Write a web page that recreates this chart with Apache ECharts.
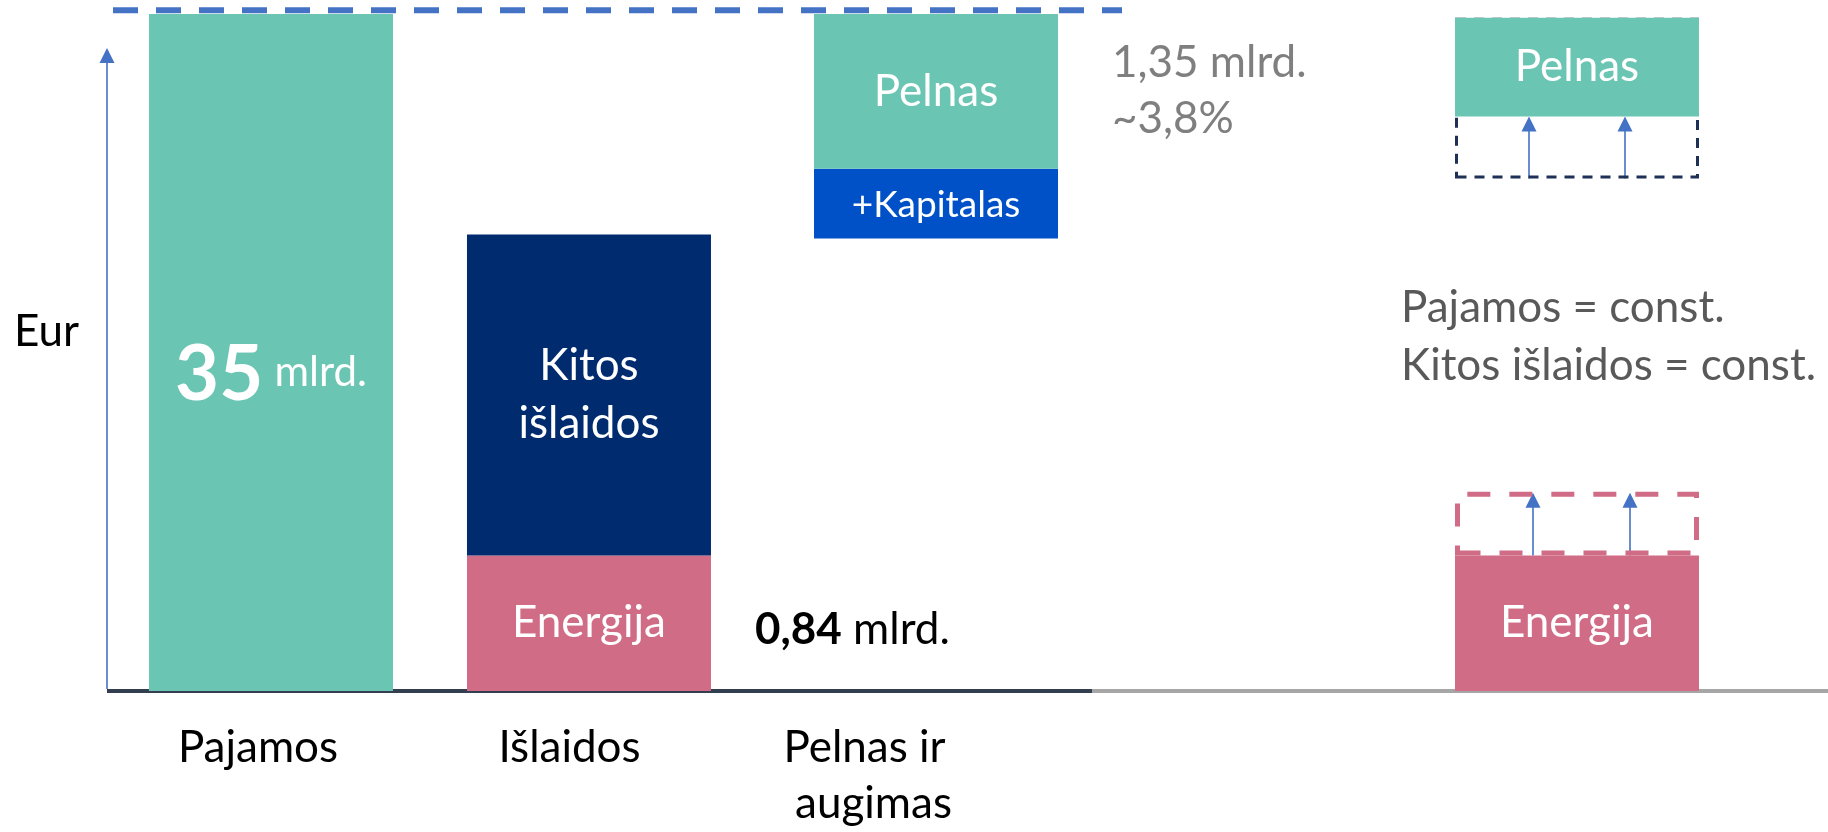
<!DOCTYPE html>
<html>
<head>
<meta charset="utf-8" />
<title>Pajamos, išlaidos ir pelnas</title>
<style>
  html, body { margin: 0; padding: 0; background: #fff; }
  #main { width: 1828px; height: 832px; }
</style>
</head>
<body>
<div id="main"></div>
<script src="https://cdn.jsdelivr.net/npm/echarts@6/dist/echarts.min.js"></script>
<script>
// duomenys, mlrd. Eur (stulpelių aukščiai schematiniai, kaip paveiksle)
var categories = ['Pajamos', 'Išlaidos', 'Pelnas ir\naugimas'];
var pajamos = [35, '-', '-'];
var energija = ['-', 7.0, '-'];
var kitosIslaidos = ['-', 16.6, '-'];
var pelnoBaze = ['-', '-', 23.4];
var kapitalas = ['-', '-', 3.6];
var pelnas = ['-', '-', 8.0];

// dešinė dalis: energija brangsta, pelnas mažėja
var energijaPo = [7.0];
var energijosPrieaugis = [3.3];
var pelnasPriesBaze = [26.5];
var pelnasPries = [8.3];
var pelnasPoBaze = [29.7];
var pelnasPo = [5.1];

var yMax = 35;
var riba = 35.2;   // punktyrinė linija virš pajamų

var TEAL = '#6BC5B3', NAVY = '#002B6E', PINK = '#D06C85', KAP = '#0050C8';
var BLUE = '#4472C4', AXIS_DARK = '#333F50', AXIS_GRAY = '#A6A6A6';
var FONT = 'Lato';
var FS = 44;

function whiteLabel(extra) {
    var l = { show: true, position: 'inside', color: '#fff', fontFamily: FONT, fontSize: FS };
    for (var k in extra) l[k] = extra[k];
    return l;
}
function bar(name, data, color, stack, grid, label) {
    return {
        name: name, type: 'bar', data: data, stack: stack,
        xAxisIndex: grid, yAxisIndex: grid,
        barWidth: 244, silent: true,
        itemStyle: { color: color },
        label: label || { show: false },
        emphasis: { disabled: true }
    };
}
function dashedBar(name, data, border, width, dash, stack) {
    var s = bar(name, data, 'rgba(0,0,0,0)', stack, 1);
    s.itemStyle = { color: 'rgba(0,0,0,0)', borderColor: border, borderWidth: width, borderType: dash };
    return s;
}
function axisRich(padRight) {
    return { fontFamily: FONT, fontSize: FS, lineHeight: 56, color: '#000', padding: [0, padRight, 0, 0] };
}

var option = {
    animation: false,
    backgroundColor: '#fff',
    grid: [
        { left: 126.5, top: 14, width: 954, bottom: 141 },
        { left: 1333, top: 14, width: 488, bottom: 141 }
    ],
    xAxis: [{
        type: 'category', gridIndex: 0, data: categories,
        axisLine: { show: false },
        axisTick: { show: false },
        axisLabel: {
            interval: 0, margin: 29, color: '#000',
            formatter: function (v, i) {
                if (i === 0) return '{a|' + v + '}';
                if (i === 1) return '{b|' + v + '}';
                var p = v.split('\n');
                return '{c|' + p[0] + '}\n{d|' + p[1] + '}';
            },
            rich: { a: axisRich(55), b: axisRich(68), c: axisRich(114), d: axisRich(96) }
        }
    }, {
        type: 'category', gridIndex: 1, data: ['Po'],
        axisLine: { show: false },
        axisTick: { show: false },
        axisLabel: { show: false }
    }],
    yAxis: [
        { type: 'value', gridIndex: 0, min: 0, max: yMax, show: false },
        { type: 'value', gridIndex: 1, min: 0, max: yMax, show: false }
    ],
    series: [
        bar('Pajamos', pajamos, TEAL, 'L', 0, whiteLabel({
            offset: [0, 21],
            formatter: '{n|35} {m|mlrd.}',
            rich: {
                n: { fontFamily: FONT, fontSize: 76, fontWeight: 'bold', color: '#fff', verticalAlign: 'bottom', lineHeight: 80 },
                m: { fontFamily: FONT, fontSize: 42, color: '#fff', verticalAlign: 'bottom', lineHeight: 80, padding: [0, 0, 20, 0] }
            }
        })),
        bar('Energija', energija, PINK, 'L', 0, whiteLabel({ formatter: 'Energija' })),
        bar('Kitos išlaidos', kitosIslaidos, NAVY, 'L', 0, whiteLabel({ formatter: 'Kitos\nišlaidos', lineHeight: 58 })),
        bar('Bazė', pelnoBaze, 'rgba(0,0,0,0)', 'P', 0),
        bar('Kapitalas', kapitalas, KAP, 'P', 0, whiteLabel({ formatter: '+Kapitalas', fontSize: 37, offset: [0, 2] })),
        bar('Pelnas', pelnas, TEAL, 'P', 0, whiteLabel({ formatter: 'Pelnas' })),

        bar('Energija po', energijaPo, PINK, 'R1', 1, whiteLabel({ formatter: 'Energija' })),
        dashedBar('Energijos prieaugis', energijosPrieaugis, PINK, 5, [23, 19], 'R1'),
        bar('Bazė 2', pelnasPriesBaze, 'rgba(0,0,0,0)', 'R2', 1),
        dashedBar('Pelnas prieš', pelnasPries, '#1F3056', 3, [10, 8], 'R2'),
        bar('Bazė 3', pelnasPoBaze, 'rgba(0,0,0,0)', 'R3', 1),
        bar('Pelnas po', pelnasPo, TEAL, 'R3', 1, whiteLabel({ formatter: 'Pelnas' }))
    ]
};
// kairėje dvi stulpelių grupės beveik persidengia: pirmi du stulpeliai kiek kairiau, trečias dešiniau
option.series[5].barGap = '-88.1%';
// dešinėje visi trys sluoksniai vienoje vietoje
option.series[11].barGap = '-100%';

var chart = echarts.init(document.getElementById('main'));
chart.setOption(option);

// anotacijos: ašys, rodyklės, linijos, tekstai
function px(g, c, v) { return chart.convertToPixel({ xAxisIndex: g, yAxisIndex: g }, [c, v]); }
function arrow(x, yBottom, yTip) {
    return [
        { type: 'line', silent: true, shape: { x1: x, y1: yBottom, x2: x, y2: yTip + 12 }, style: { stroke: BLUE, lineWidth: 1.6 } },
        { type: 'polygon', silent: true, shape: { points: [[x, yTip], [x - 7.5, yTip + 15], [x + 7.5, yTip + 15]] }, style: { fill: BLUE } }
    ];
}
function text(x, yBase, str, size, color, rich, align) {
    return {
        type: 'text', silent: true,
        style: {
            x: x, y: yBase - size * 0.33, text: str, fill: color,
            fontFamily: FONT, fontSize: size, align: align || 'left', verticalAlign: 'middle',
            rich: rich
        }
    };
}

var g = [];
var y0 = px(0, 0, 0)[1];
var yTop = px(0, 0, riba)[1];
g.push({ type: 'line', silent: true, shape: { x1: 107, y1: y0, x2: 1092, y2: y0 },
         style: { stroke: AXIS_DARK, lineWidth: 4 } });
g.push({ type: 'line', silent: true, shape: { x1: 1092, y1: y0, x2: 1828, y2: y0 },
         style: { stroke: AXIS_GRAY, lineWidth: 4 } });
g.push({ type: 'line', silent: true, shape: { x1: 113, y1: yTop, x2: 1122, y2: yTop },
         style: { stroke: BLUE, lineWidth: 6, lineDash: [25, 18] } });
g = g.concat(arrow(107, y0 - 2, 48));

var cx = px(1, 0, 0)[0];
var eTop = px(1, 0, energijaPo[0])[1];
var eNew = px(1, 0, energijaPo[0] + energijosPrieaugis[0])[1];
var pBot = px(1, 0, pelnasPriesBaze[0])[1];
var pNew = px(1, 0, pelnasPoBaze[0])[1];
g = g.concat(arrow(cx - 48, pBot, pNew), arrow(cx + 48, pBot, pNew));
g = g.concat(arrow(cx - 44, eTop, eNew + 1), arrow(cx + 53, eTop, eNew + 1));

g.push(text(14, 346, 'Eur', FS, '#000'));
g.push(text(755, 644, '{b|0,84} mlrd.', FS, '#000', {
    b: { fontFamily: FONT, fontSize: FS, fontWeight: 'bold', fill: '#000' }
}));
g.push(text(1112, 77, '1,35 mlrd.', FS, '#7F7F7F'));
g.push(text(1112, 133, '~3,8%', FS, '#7F7F7F'));
g.push(text(1401, 322, 'Pajamos = const.', FS, '#595959'));
g.push(text(1401, 380, 'Kitos išlaidos = const.', FS, '#595959'));

chart.setOption({ graphic: g });
</script>
</body>
</html>
